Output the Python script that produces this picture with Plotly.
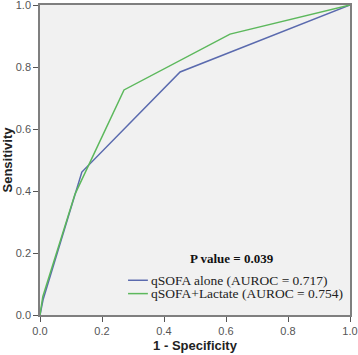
import plotly.graph_objects as go

# data
blue_name = "qSOFA alone (AUROC = 0.717)"
blue_color = "#5a6aae"
blue_x = [0.0, 0.01, 0.135, 0.452, 1.0]
blue_y = [0.0, 0.05, 0.461, 0.784, 1.0]

green_name = "qSOFA+Lactate (AUROC = 0.754)"
green_color = "#5cb85c"
green_x = [0.0, 0.009, 0.113, 0.271, 0.613, 1.0]
green_y = [0.0, 0.059, 0.39, 0.726, 0.906, 1.0]

tick_vals = [0.0, 0.2, 0.4, 0.6, 0.8, 1.0]
tick_text = ["0.0", "0.2", "0.4", "0.6", "0.8", "1.0"]
p_text = "<b>P value = 0.039</b>"

fig = go.Figure()
fig.add_trace(go.Scatter(x=blue_x, y=blue_y, mode="lines", name=blue_name,
                         line=dict(color=blue_color, width=1.5), showlegend=False))
fig.add_trace(go.Scatter(x=green_x, y=green_y, mode="lines", name=green_name,
                         line=dict(color=green_color, width=1.5), showlegend=False))

axis_common = dict(range=[0, 1], tickvals=tick_vals, ticktext=tick_text,
                   showgrid=False, zeroline=False, showline=True, mirror=True,
                   linecolor="#7f7f7f", linewidth=1.5, ticks="outside",
                   ticklen=5, tickcolor="#555555", tickwidth=1, automargin=False,
                   ticklabeloverflow="allow",
                   tickfont=dict(family="Liberation Sans, Arial", size=11, color="#555555"))

# compact legend, drawn in axis-fraction coordinates
legend_rows = [(blue_name, blue_color, 0.112), (green_name, green_color, 0.069)]
shapes = []
annotations = [dict(text=p_text, x=0.619, y=0.181, xref="x", yref="y",
                    showarrow=False, xanchor="center", yanchor="middle",
                    font=dict(family="Liberation Serif, Times New Roman", size=13, color="#111"))]
for name, color, yy in legend_rows:
    shapes.append(dict(type="line", xref="x", yref="y", x0=0.284, x1=0.348, y0=yy, y1=yy,
                       line=dict(color=color, width=1.5)))
    annotations.append(dict(text=name, x=0.352, y=yy, xref="x", yref="y", showarrow=False,
                            xanchor="left", yanchor="middle",
                            font=dict(family="Liberation Serif, Times New Roman", size=13.5, color="#222")))

fig.update_layout(
    width=358, height=355,
    margin=dict(l=40, r=8, t=5, b=40),
    paper_bgcolor="white", plot_bgcolor="#f1f1f1",
    xaxis=dict(**axis_common,
               title=dict(text="<b>1 - Specificity</b>", standoff=5,
                          font=dict(family="Liberation Sans, Arial", size=13, color="#222"))),
    yaxis=dict(**axis_common,
               title=dict(text="<b>Sensitivity</b>", standoff=6,
                          font=dict(family="Liberation Sans, Arial", size=13, color="#222"))),
    showlegend=False,
    shapes=shapes,
    annotations=annotations,
)

fig.write_html("out.html", config={"displayModeBar": False},
               post_script="document.body.style.margin='0';document.body.style.overflow='hidden';")
